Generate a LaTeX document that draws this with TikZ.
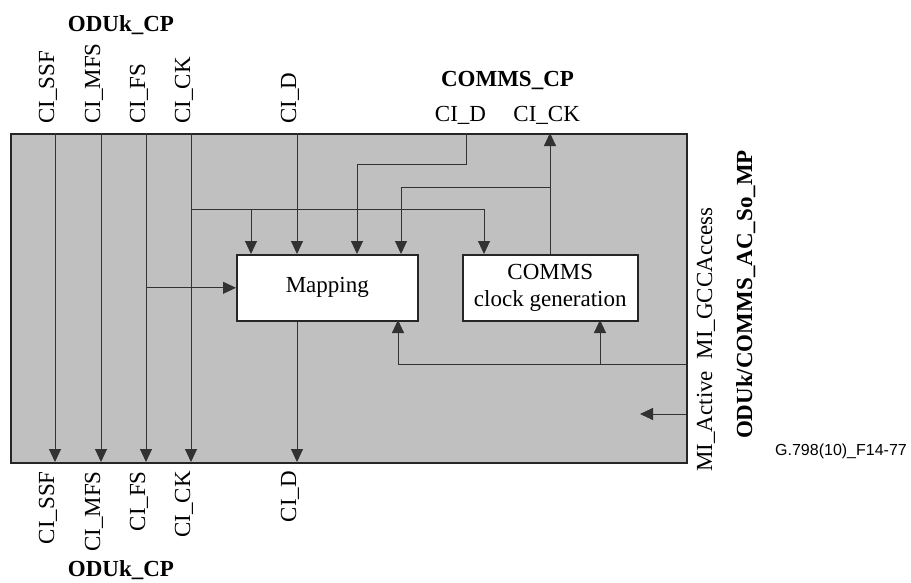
\documentclass[tikz,border=0pt]{standalone}
\usepackage{fontspec}
\setmainfont{Liberation Serif}
\newfontfamily\figsans{Liberation Sans}
\usetikzlibrary{arrows.meta}
\definecolor{boxgray}{RGB}{192,192,192}
\definecolor{linegray}{RGB}{50,50,50}
\begin{document}
\begin{tikzpicture}[x=1pt,y=-1pt,
  sig/.style={draw=linegray, line width=0.9pt},
  arr/.style={sig, -{Triangle[length=13pt,width=12pt]}},
  outer/.style={draw=black!85, line width=1.6pt, fill=boxgray, inner sep=0pt},
  blk/.style={draw=black!85, line width=1.6pt, fill=white, inner sep=0pt, align=center,
    font=\fontsize{23}{26.5}\selectfont},
  lbl/.style={font=\fontsize{23}{26}\selectfont, inner sep=0pt},
  blbl/.style={font=\fontsize{23}{26}\selectfont\bfseries, inner sep=0pt},
  vlbl/.style={lbl, rotate=90}
]
\useasboundingbox (0,0) rectangle (911,582);
% main function block
\node[outer, anchor=north west, minimum width=676pt, minimum height=329pt] (func) at (10,133) {};
\node[blk, anchor=north west, minimum width=181pt, minimum height=66pt] (map) at (236,254) {Mapping};
\node[blk, anchor=north west, minimum width=175pt, minimum height=66pt] (clk) at (462,254) {COMMS\\clock generation};

% top labels
\node[blbl, anchor=base] (odutop) at (121,31.5) {ODUk\_CP};
\node[vlbl, anchor=base west] (tssf) at (54,124) {CI\_SSF};
\node[vlbl, anchor=base west] (tmfs) at (100,124) {CI\_MFS};
\node[vlbl, anchor=base west] (tfs) at (145,124) {CI\_FS};
\node[vlbl, anchor=base west] (tck) at (190,124) {CI\_CK};
\node[vlbl, anchor=base west] (td) at (296,124) {CI\_D};
\node[blbl, anchor=base] (commscp) at (507.5,86.5) {COMMS\_CP};
\node[lbl, anchor=base] (cd) at (460.5,121) {CI\_D};
\node[lbl, anchor=base] (cck) at (546.7,121) {CI\_CK};

% bottom labels
\node[vlbl, anchor=base east] (bssf) at (54,471) {CI\_SSF};
\node[vlbl, anchor=base east] (bmfs) at (100,471) {CI\_MFS};
\node[vlbl, anchor=base east] (bfs) at (145,471) {CI\_FS};
\node[vlbl, anchor=base east] (bck) at (190,471) {CI\_CK};
\node[vlbl, anchor=base east] (bd) at (296,471) {CI\_D};
\node[blbl, anchor=base] (odubot) at (121,576) {ODUk\_CP};

% right labels
\node[vlbl, anchor=base west] (mi) at (712,472) {MI\_Active\ \ MI\_GCCAccess};
\node[blbl, rotate=90, anchor=base east] (mp) at (752,150) {ODUk/COMMS\_AC\_So\_MP};
\node[inner sep=0pt, anchor=base west, font=\figsans\fontsize{16}{18}\selectfont] (fig) at (775,455) {G.798(10)\_F14-77};

% coordinates on borders
\coordinate (ssfT) at (55,133);  \coordinate (ssfB) at (55,462);
\coordinate (mfsT) at (101,133); \coordinate (mfsB) at (101,462);
\coordinate (fsT) at (146,133);  \coordinate (fsB) at (146,462);
\coordinate (ckT) at (191,133);  \coordinate (ckB) at (191,462);
\coordinate (dT) at (297,133);   \coordinate (dB) at (297,462);
\coordinate (cdT) at (466,133);  \coordinate (cckT) at (550,133);
\coordinate (gccR) at (686,364); \coordinate (actR) at (686,414);
\coordinate (actE) at (640,414);

% pass-through signals
\draw[arr] (ssfT) -- (ssfB);
\draw[arr] (mfsT) -- (mfsB);
\draw[arr] (fsT) -- (fsB);
\draw[arr] (ckT) -- (ckB);
% CI_FS into mapping
\draw[arr] (fsT |- map.west) -- (map.west);
% CI_CK branches
\draw[arr] (191,209) -| (484,254);
\draw[arr] (251,209) -- (251,254);
% CI_D
\draw[arr] (dT) -- (dT |- map.north);
\draw[arr] (dT |- map.south) -- (dB);
% COMMS CI_D
\draw[arr] (cdT) -- (466,164) -| (357,254);
% COMMS CI_CK
\draw[arr] (cckT |- clk.north) -- (cckT);
\draw[arr] (550,187) -| (401,254);
% MI_GCCAccess
\draw[arr] (gccR) -| (398,320);
\draw[arr] (600,364) -- (600,320);
% MI_Active
\draw[arr] (actR) -- (actE);
\end{tikzpicture}
\end{document}
